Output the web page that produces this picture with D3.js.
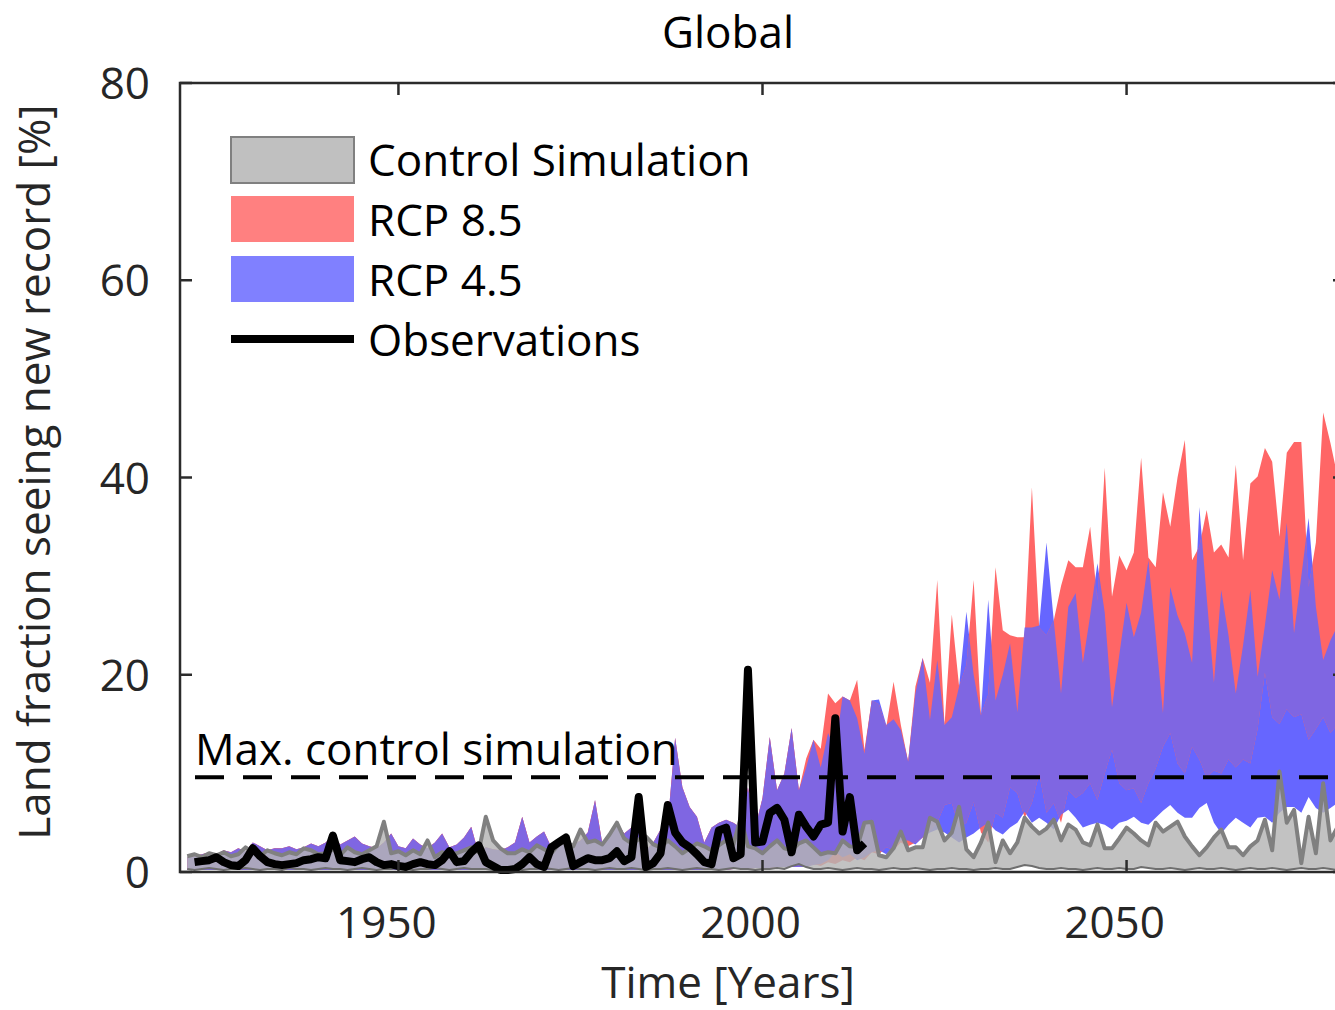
<!DOCTYPE html>
<html>
<head>
<meta charset="utf-8">
<script src="https://cdn.jsdelivr.net/npm/d3@7"></script>
<style>
  body { margin: 0; background: #fff; }
  svg { display: block; font-family: "Open Sans", sans-serif; }
</style>
</head>
<body>
<div id="chart"></div>
<script>
// ************** data *****************
var startYear = 1921;

// control simulation envelope (1921-2080)
var ctlHi = [
  1.6, 1.8, 1.5, 1.9, 1.7, 2.0, 1.6, 1.8, 2.5, 2.0,
  1.6, 2.2, 1.9, 1.7, 2.0, 1.8, 2.4, 2.2, 1.8, 1.9,
  2.3, 1.7, 2.5, 2.0, 1.8, 2.2, 2.6, 5.1, 1.9, 2.1,
  1.7, 2.2, 1.8, 3.2, 1.5, 2.0, 1.8, 1.9, 2.2, 2.5,
  2.0, 5.6, 3.2, 2.4, 1.9, 1.9, 2.3, 2.0, 2.7, 2.3,
  1.9, 2.8, 3.1, 2.6, 4.3, 3.0, 3.2, 2.8, 3.8, 5.0,
  3.4, 2.9, 3.3, 3.6, 2.8, 2.5, 3.2, 2.6, 1.9, 2.4,
  2.9, 2.6, 2.2, 2.7, 3.2, 2.8, 5.5, 2.6, 2.4, 1.9,
  2.6, 3.2, 2.4, 2.2, 2.9, 3.2, 2.5, 1.8, 2.0, 1.9,
  3.2, 2.6, 2.5, 5.0, 5.1, 1.7, 1.5, 2.4, 4.1, 2.2,
  2.5, 2.5, 5.5, 5.1, 3.2, 4.0, 6.6, 2.3, 1.5, 3.0,
  5.0, 1.0, 3.2, 1.9, 3.0, 5.5, 4.6, 3.9, 4.4, 5.3,
  3.2, 4.8, 4.3, 3.0, 2.7, 4.8, 2.4, 2.4, 3.4, 4.5,
  3.9, 3.2, 2.7, 5.0, 4.1, 4.6, 5.1, 3.6, 2.6, 1.7,
  2.5, 3.5, 4.3, 2.5, 2.5, 1.7, 2.6, 3.2, 5.3, 2.2,
  10.2, 5.0, 6.3, 0.9, 5.6, 1.9, 9.0, 3.2, 4.6, 3.5
];
var ctlLo = [
  0.3, 0.2, 0.3, 0.4, 0.3, 0.2, 0.3, 0.3, 0.4, 0.3,
  0.2, 0.3, 0.3, 0.2, 0.4, 0.3, 0.3, 0.2, 0.3, 0.4,
  0.3, 0.3, 0.2, 0.3, 0.4, 0.3, 0.2, 0.3, 0.3, 0.4,
  0.3, 0.2, 0.3, 0.3, 0.4, 0.3, 0.2, 0.3, 0.4, 0.3,
  0.3, 0.3, 0.2, 0.4, 0.3, 0.3, 0.2, 0.3, 0.3, 0.4,
  0.3, 0.2, 0.3, 0.4, 0.3, 0.3, 0.2, 0.3, 0.4, 0.3,
  0.3, 0.4, 0.3, 0.2, 0.3, 0.3, 0.4, 0.3, 0.2, 0.3,
  0.4, 0.3, 0.3, 0.2, 0.3, 0.4, 0.3, 0.3, 0.2, 0.3,
  0.3, 0.4, 0.3, 0.6, 0.8, 0.5, 0.3, 0.3, 0.4, 0.3,
  0.2, 0.3, 0.4, 0.3, 0.3, 0.2, 0.3, 0.4, 0.3, 0.3,
  0.4, 0.3, 0.2, 0.3, 0.3, 0.4, 0.3, 0.3, 0.2, 0.3,
  0.3, 0.4, 0.3, 0.3, 0.5, 0.7, 0.6, 0.4, 0.3, 0.3,
  0.4, 0.3, 0.3, 0.2, 0.3, 0.4, 0.3, 0.3, 0.4, 0.3,
  0.3, 0.5, 0.4, 0.3, 0.3, 0.4, 0.3, 0.2, 0.3, 0.4,
  0.3, 0.3, 0.4, 0.3, 0.2, 0.3, 0.4, 0.3, 0.3, 0.4,
  0.3, 0.2, 0.3, 0.4, 0.3, 0.3, 0.4, 0.3, 0.2, 0.3
];

// historical model envelope, shared by both scenarios (1921-2005)
var histHi = [
  1.5, 1.6, 1.8, 2.0, 1.8, 2.2, 2.0, 2.4, 2.1, 3.0,
  2.6, 2.2, 2.4, 2.4, 2.6, 2.3, 2.5, 2.9, 2.6, 3.0,
  3.7, 2.8, 3.2, 3.6, 2.9, 2.6, 2.4, 3.0, 3.9, 2.6,
  2.4, 3.4, 2.8, 2.4, 3.0, 3.9, 2.5, 2.8, 3.5, 4.6,
  1.9, 2.5, 2.3, 2.2, 2.5, 3.0, 5.6, 3.0, 3.6, 4.1,
  2.5, 3.0, 2.7, 2.8, 3.2, 4.0, 7.3, 2.9, 4.0, 5.1,
  3.9, 4.5, 5.1, 2.2, 3.0, 4.3, 5.0, 13.6, 8.6, 6.6,
  5.6, 3.0, 4.5, 5.0, 5.3, 5.0, 4.5, 8.6, 4.5, 7.5,
  13.7, 8.3, 10.0, 14.6, 8.3
];
var histLo = [
  0.2, 0.2, 0.2, 0.2, 0.2, 0.2, 0.2, 0.2, 0.2, 0.2,
  0.2, 0.2, 0.2, 0.2, 0.2, 0.2, 0.2, 0.2, 0.2, 0.2,
  0.2, 0.2, 0.2, 0.2, 0.2, 0.2, 0.2, 0.2, 0.2, 0.2,
  0.2, 0.2, 0.2, 0.2, 0.2, 0.2, 0.2, 0.2, 0.2, 0.2,
  0.2, 0.2, 0.2, 0.2, 0.2, 0.2, 0.2, 0.2, 0.2, 0.2,
  0.2, 0.2, 0.2, 0.2, 0.2, 0.2, 0.2, 0.2, 0.2, 0.2,
  0.2, 0.2, 0.2, 0.2, 0.2, 0.2, 0.2, 0.2, 0.2, 0.2,
  0.2, 0.2, 0.2, 0.2, 0.2, 0.3, 0.3, 0.3, 0.4, 0.4,
  0.4, 0.5, 0.5, 0.5, 0.5
];

// scenario envelopes (2006-2080)
var rcp85HiFut = [
  11.5, 13.4, 12.5, 18.1, 17.1,
  17.8, 17.4, 19.5, 12.4, 17.4, 17.0, 14.7, 19.3, 14.9, 11.2,
  18.8, 21.7, 19.2, 29.6, 14.9, 26.1, 18.8, 21.0, 29.6, 15.9,
  18.0, 30.9, 24.5, 24.0, 23.8, 23.8, 39.0, 24.8, 24.0, 25.5,
  29.0, 31.6, 30.9, 30.9, 35.0, 27.5, 41.0, 27.9, 32.1, 30.6,
  32.4, 42.0, 31.9, 30.9, 38.5, 35.0, 40.0, 43.8, 31.6, 33.0,
  36.7, 32.4, 33.2, 31.9, 41.3, 31.6, 39.4, 40.1, 43.0, 41.6,
  34.0, 42.5, 43.6, 43.6, 28.9, 33.4, 46.6, 43.5, 40.0, 38.0
];
var rcp85LoFut = [
  0.5, 0.8, 0.6, 1.0, 0.8,
  1.2, 1.0, 1.5, 1.2, 2.0, 1.8, 2.5, 2.2, 3.0, 2.6,
  3.0, 3.5, 4.2, 5.0, 6.8, 7.0, 4.5, 5.0, 7.1, 4.0,
  3.0, 6.0, 5.5, 8.6, 8.0, 5.5, 7.0, 10.0, 6.0, 7.0,
  5.0, 8.3, 7.5, 8.0, 9.0, 7.3, 10.0, 12.4, 9.0, 8.3,
  8.5, 7.0, 9.0, 10.5, 12.7, 14.1, 11.0, 10.0, 12.7, 11.4,
  9.6, 10.3, 10.0, 11.4, 10.6, 11.4, 11.0, 14.5, 20.2, 15.7,
  15.0, 16.5, 15.7, 16.0, 13.4, 14.5, 15.7, 14.1, 15.0, 14.0
];
var rcp45HiFut = [
  10.6, 13.4, 10.6, 14.1, 12.4,
  17.8, 17.4, 15.6, 12.0, 17.4, 17.5, 14.9, 15.5, 14.4, 11.2,
  18.1, 21.7, 15.4, 21.5, 14.9, 15.7, 18.8, 26.4, 20.0, 15.9,
  27.6, 17.4, 20.0, 23.2, 16.2, 24.8, 24.8, 25.0, 33.4, 25.5,
  18.1, 26.9, 28.3, 21.2, 26.0, 31.3, 26.3, 16.7, 22.0, 27.3,
  23.8, 26.3, 31.6, 24.0, 16.1, 28.9, 26.0, 24.2, 21.2, 37.0,
  27.9, 19.2, 28.6, 24.0, 18.1, 23.0, 28.6, 19.8, 25.0, 30.6,
  27.6, 35.4, 24.2, 30.0, 35.9, 26.9, 21.5, 23.5, 25.0, 24.0
];
var rcp45LoFut = [
  0.5, 0.7, 0.8, 1.2, 2.0,
  1.5, 1.8, 1.2, 1.5, 2.0, 2.2, 1.8, 2.5, 3.2, 3.2,
  2.8, 3.5, 4.0, 4.3, 4.0, 3.5, 3.0, 3.5, 3.9, 4.5,
  5.0, 4.2, 3.8, 4.5, 5.0, 6.1, 5.0, 5.5, 5.0, 4.3,
  5.8, 6.3, 5.5, 4.5, 4.8, 5.0, 4.8, 4.3, 5.0, 5.2,
  5.6, 5.0, 4.8, 5.5, 6.2, 6.8, 6.0, 5.5, 5.5, 6.5,
  7.0, 5.0, 3.9, 4.8, 5.5, 5.0, 4.5, 5.5, 5.6, 5.0,
  6.0, 6.6, 6.6, 6.0, 7.6, 6.5, 6.0, 6.5, 7.0, 6.5
];

// observations (1922-2014)
var obsStart = 1922;
var obs = [
  1.0, 1.1, 1.2, 1.5, 1.0, 0.7, 0.6, 1.2, 2.4,
  1.6, 1.0, 0.8, 0.7, 0.8, 0.9, 1.2, 1.3, 1.5, 1.4,
  3.7, 1.2, 1.1, 1.0, 1.3, 1.5, 1.0, 0.7, 0.8, 0.6,
  0.5, 0.8, 1.0, 0.8, 0.7, 1.2, 2.1, 1.0, 1.1, 2.0,
  2.7, 1.0, 0.6, 0.2, 0.2, 0.3, 0.8, 1.5, 0.8, 0.5,
  2.5, 3.0, 3.5, 0.6, 1.0, 1.4, 1.2, 1.2, 1.4, 2.1,
  1.1, 1.5, 7.6, 0.5, 0.9, 1.9, 6.8, 4.0, 3.0, 2.5,
  1.8, 1.0, 0.8, 4.2, 4.5, 1.4, 1.8, 20.5, 3.0, 3.1,
  6.0, 6.5, 5.3, 2.0, 5.8, 4.6, 3.6, 4.8, 5.0, 15.6,
  4.1, 7.6, 2.2, 2.9
];

var maxControl = 9.6;
var xTicks = [1950, 2000, 2050];
var yTicks = [0, 20, 40, 60, 80];
var legendNames = ["Control Simulation", "RCP 8.5", "RCP 4.5", "Observations"];

// ************** build rows *****************
var rcp85Hi = histHi.concat(rcp85HiFut),
    rcp85Lo = histLo.concat(rcp85LoFut),
    rcp45Hi = histHi.concat(rcp45HiFut),
    rcp45Lo = histLo.concat(rcp45LoFut);

var ctlRows = ctlHi.map(function(d, i) { return {year: startYear + i, hi: d, lo: ctlLo[i]}; });
var r85Rows = rcp85Hi.map(function(d, i) { return {year: startYear + i, hi: d, lo: rcp85Lo[i]}; });
var r45Rows = rcp45Hi.map(function(d, i) { return {year: startYear + i, hi: d, lo: rcp45Lo[i]}; });
var obsRows = obs.map(function(d, i) { return {year: obsStart + i, v: d}; });

// ************** svg *****************
var widthTotal = 1335, heightTotal = 1010;
var plot = {left: 180, right: 1345, top: 83, bottom: 872};
var fontSize = "44px";

var x = d3.scaleLinear().domain([1920, 2080]).range([plot.left, plot.right]);
var y = d3.scaleLinear().domain([0, 80]).range([plot.bottom, plot.top]);

var svg = d3.select("#chart").append("svg")
  .attr("width", widthTotal)
  .attr("height", heightTotal);

var band = d3.area()
  .x(function(d) { return x(d.year); })
  .y0(function(d) { return y(d.lo); })
  .y1(function(d) { return y(d.hi); });

svg.append("clipPath").attr("id", "r85clip")
  .append("path").attr("d", band(r85Rows));

//scenario bands: blue, red, then purple overlap
svg.append("path").attr("d", band(r45Rows)).attr("fill", "#6666ff");
svg.append("path").attr("d", band(r85Rows)).attr("fill", "#ff6666");
svg.append("path").attr("d", band(r45Rows)).attr("fill", "#7f66e2")
  .attr("clip-path", "url(#r85clip)");

//control band
svg.append("path").attr("d", band(ctlRows))
  .attr("fill", "#b4b4b4").attr("fill-opacity", 0.82);

svg.append("path")
  .attr("d", d3.line().x(function(d) { return x(d.year); }).y(function(d) { return y(d.lo); })(ctlRows))
  .attr("fill", "none").attr("stroke", "#6e6e6e").attr("stroke-width", 2);

svg.append("path")
  .attr("d", d3.line().x(function(d) { return x(d.year); }).y(function(d) { return y(d.hi); })(ctlRows))
  .attr("fill", "none").attr("stroke", "#808080").attr("stroke-width", 4)
  .attr("stroke-linejoin", "round");

//observations
svg.append("path")
  .attr("d", d3.line().x(function(d) { return x(d.year); }).y(function(d) { return y(d.v); })(obsRows))
  .attr("fill", "none").attr("stroke", "#000").attr("stroke-width", 8)
  .attr("stroke-linejoin", "round");

//max control line
svg.append("line")
  .attr("x1", 195).attr("x2", plot.right)
  .attr("y1", y(maxControl)).attr("y2", y(maxControl))
  .attr("stroke", "#000").attr("stroke-width", 4)
  .attr("stroke-dasharray", "29,19");

svg.append("text")
  .attr("x", 195).attr("y", 765)
  .attr("font-size", fontSize)
  .attr("fill", "#000")
  .text("Max. control simulation");

//axes box
var axisColor = "#2b2b2b";
svg.append("rect")
  .attr("x", plot.left).attr("y", plot.top)
  .attr("width", plot.right - plot.left).attr("height", plot.bottom - plot.top)
  .attr("fill", "none").attr("stroke", axisColor).attr("stroke-width", 2.5);

var tickLen = 12;
xTicks.forEach(function(t) {
  svg.append("line").attr("x1", x(t)).attr("x2", x(t))
    .attr("y1", plot.bottom).attr("y2", plot.bottom - tickLen)
    .attr("stroke", axisColor).attr("stroke-width", 2.5);
  svg.append("line").attr("x1", x(t)).attr("x2", x(t))
    .attr("y1", plot.top).attr("y2", plot.top + tickLen)
    .attr("stroke", axisColor).attr("stroke-width", 2.5);
  svg.append("text").attr("x", x(t) - 12).attr("y", 938)
    .attr("text-anchor", "middle").attr("font-size", fontSize).attr("fill", "#262626")
    .text(t);
});

yTicks.forEach(function(t) {
  svg.append("line").attr("x1", plot.left).attr("x2", plot.left + tickLen)
    .attr("y1", y(t)).attr("y2", y(t))
    .attr("stroke", axisColor).attr("stroke-width", 2.5);
  svg.append("line").attr("x1", plot.right).attr("x2", plot.right - tickLen)
    .attr("y1", y(t)).attr("y2", y(t))
    .attr("stroke", axisColor).attr("stroke-width", 2.5);
  svg.append("text").attr("x", 150).attr("y", y(t) + 16)
    .attr("text-anchor", "end").attr("font-size", fontSize).attr("fill", "#262626")
    .text(t);
});

//titles
svg.append("text").attr("x", 728).attr("y", 48)
  .attr("text-anchor", "middle").attr("font-size", fontSize).attr("fill", "#000")
  .text("Global");

svg.append("text").attr("x", 728).attr("y", 998)
  .attr("text-anchor", "middle").attr("font-size", fontSize).attr("fill", "#262626")
  .text("Time [Years]");

svg.append("text")
  .attr("transform", "translate(50,472) rotate(-90)")
  .attr("text-anchor", "middle").attr("font-size", fontSize).attr("fill", "#262626")
  .text("Land fraction seeing new record [%]");

//legend
var legend = svg.append("g").attr("transform", "translate(231,137)");
var legendRowH = 60;
legend.append("rect").attr("x", 0).attr("y", 0).attr("width", 123).attr("height", 46)
  .attr("fill", "#c0c0c0").attr("stroke", "#808080").attr("stroke-width", 2);
legend.append("rect").attr("x", 0).attr("y", legendRowH - 1).attr("width", 123).attr("height", 46)
  .attr("fill", "#ff8080");
legend.append("rect").attr("x", 0).attr("y", legendRowH * 2 - 1).attr("width", 123).attr("height", 46)
  .attr("fill", "#8080ff");
legend.append("line").attr("x1", 0).attr("x2", 123)
  .attr("y1", legendRowH * 3 + 22).attr("y2", legendRowH * 3 + 22)
  .attr("stroke", "#000").attr("stroke-width", 8);

legend.selectAll("text.leg")
  .data(legendNames)
  .enter()
  .append("text")
  .attr("class", "leg")
  .attr("x", 137)
  .attr("y", function(d, i) { return 39 + legendRowH * i; })
  .attr("font-size", fontSize)
  .attr("fill", "#000")
  .text(function(d) { return d; });
</script>
</body>
</html>
